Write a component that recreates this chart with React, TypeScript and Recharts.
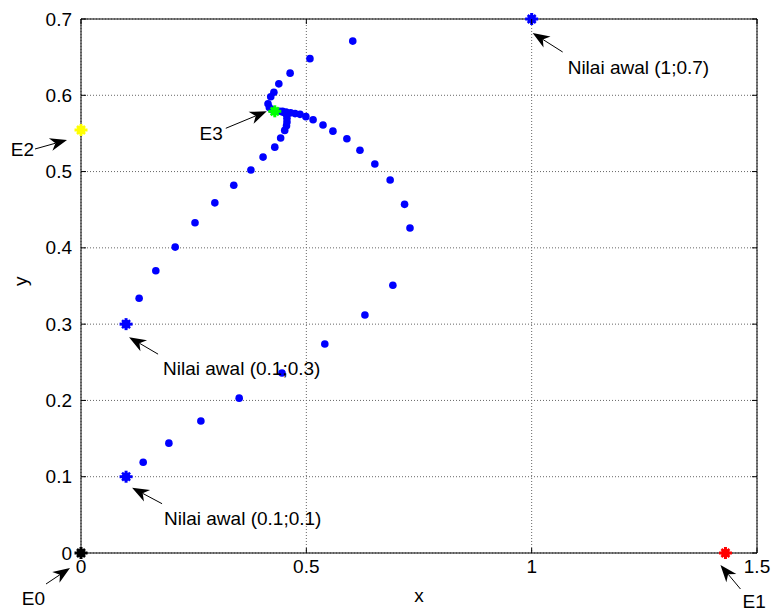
import React from 'react';
import { ScatterChart, Scatter, XAxis, YAxis, CartesianGrid, ReferenceLine } from 'recharts';

// ---------- data ----------
const xTicks = [0, 0.5, 1, 1.5];
const xTickLabels = ['0', '0.5', '1', '1.5'];
const yTicks = [0, 0.1, 0.2, 0.3, 0.4, 0.5, 0.6, 0.7];
const yTickLabels = ['0', '0.1', '0.2', '0.3', '0.4', '0.5', '0.6', '0.7'];

// trajectory starting at (0.1;0.1)
const trajAX = [0.1, 0.138, 0.195, 0.266, 0.351, 0.446, 0.541, 0.630, 0.692, 0.730, 0.718, 0.686, 0.652, 0.619, 0.590, 0.559, 0.537, 0.515, 0.499, 0.486, 0.475, 0.465, 0.455, 0.447, 0.440];
const trajAY = [0.1, 0.119, 0.144, 0.173, 0.203, 0.236, 0.274, 0.312, 0.351, 0.426, 0.457, 0.489, 0.510, 0.528, 0.543, 0.553, 0.561, 0.568, 0.572, 0.575, 0.576, 0.577, 0.578, 0.578, 0.579];

// trajectory starting at (0.1;0.3)
const trajBX = [0.1, 0.129, 0.166, 0.209, 0.253, 0.297, 0.339, 0.377, 0.404, 0.430, 0.443, 0.452, 0.456, 0.457, 0.457, 0.456, 0.452, 0.447];
const trajBY = [0.3, 0.334, 0.370, 0.401, 0.433, 0.459, 0.482, 0.502, 0.519, 0.532, 0.544, 0.554, 0.560, 0.565, 0.570, 0.575, 0.577, 0.579];

// trajectory starting at (1;0.7)
const trajCX = [1.0, 0.603, 0.508, 0.464, 0.439, 0.428, 0.421, 0.415, 0.418, 0.424, 0.430];
const trajCY = [0.7, 0.671, 0.648, 0.629, 0.615, 0.604, 0.598, 0.589, 0.584, 0.581, 0.579];

// initial values
const startX = [0.1, 0.1, 1];
const startY = [0.1, 0.3, 0.7];

// equilibrium points
const eqNames = ['E0', 'E1', 'E2', 'E3'];
const eqX = [0, 1.43, 0, 0.43];
const eqY = [0, 0, 0.5545, 0.579];

// annotations
const annoLabels = ['Nilai awal (1;0.7)', 'Nilai awal (0.1;0.3)', 'Nilai awal (0.1;0.1)', 'E3', 'E2', 'E0', 'E1'];
const annoX = [1, 0.1, 0.1, 0.43, 0, 0, 1.43];
const annoY = [0.7, 0.3, 0.1, 0.579, 0.5545, 0, 0];

// ---------- styles ----------
const FONT = '"Liberation Sans", Arial, Helvetica, sans-serif';
const FS = 19;
const PLOT_W = 676;
const PLOT_H = 534;
const eqColors = ['#000000', '#ff0000', '#ffff00', '#00ff00'];
const annoLayout = [
  { tip: [1, 14], tail: [31, 33], text: [36, 48], anchor: 'start' },
  { tip: [3, 13], tail: [32, 30], text: [37, 44], anchor: 'start' },
  { tip: [6, 11], tail: [36, 27], text: [38, 42], anchor: 'start' },
  { tip: [-8, 0], tail: [-49, 17], text: [-52, 22], anchor: 'end' },
  { tip: [-14, 10], tail: [-46, 19], text: [-47, 20], anchor: 'end' },
  { tip: [-11, 15], tail: [-35, 31], text: [-36, 45], anchor: 'end' },
  { tip: [-5, 12], tail: [15, 36], text: [17, 48], anchor: 'start' },
];

const toPts = (xs: number[], ys: number[]) => xs.map((x, i) => ({ x, y: ys[i], i }));
const dotsA = toPts(trajAX, trajAY);
const dotsB = toPts(trajBX, trajBY);
const dotsC = toPts(trajCX, trajCY);
const starts = toPts(startX, startY);
const eqs = eqNames.map((n, i) => ({ x: eqX[i], y: eqY[i], name: n, i }));
const annos = annoLabels.map((t, i) => ({ x: annoX[i], y: annoY[i], label: t, i }));

// ---------- shapes ----------
const Dot = (p: any) => <circle cx={p.cx} cy={p.cy} r={3.8} fill="#0000ff" />;

const Star = ({ cx, cy, color }: any) => (
  <g>
    <line x1={cx - 6.5} x2={cx + 6.5} y1={cy} y2={cy} stroke={color} strokeWidth={3} />
    <line x1={cx} x2={cx} y1={cy - 6} y2={cy + 6} stroke={color} strokeWidth={3} />
    <line x1={cx - 4} y1={cy - 4} x2={cx + 4} y2={cy + 4} stroke={color} strokeWidth={2.5} />
    <line x1={cx - 4} y1={cy + 4} x2={cx + 4} y2={cy - 4} stroke={color} strokeWidth={2.5} />
    <circle cx={cx} cy={cy} r={4.3} fill={color} />
  </g>
);

const StartShape = (p: any) => <Star cx={p.cx} cy={p.cy} color="#0000ff" />;
const EqShape = (p: any) => <Star cx={p.cx} cy={p.cy} color={eqColors[p.payload.i]} />;

const AnnoShape = (p: any) => {
  const L = annoLayout[p.payload.i];
  const tipX = p.cx + L.tip[0], tipY = p.cy + L.tip[1];
  const tailX = p.cx + L.tail[0], tailY = p.cy + L.tail[1];
  const dx = tipX - tailX, dy = tipY - tailY;
  const len = Math.hypot(dx, dy);
  const ux = dx / len, uy = dy / len;
  const px = -uy, py = ux;
  const hl = 17, hw = 6.5, notch = 12;
  const bx = tipX - ux * hl, by = tipY - uy * hl;
  const nx = tipX - ux * notch, ny = tipY - uy * notch;
  const pts = `${tipX},${tipY} ${bx + px * hw},${by + py * hw} ${nx},${ny} ${bx - px * hw},${by - py * hw}`;
  return (
    <g>
      <line x1={tailX} y1={tailY} x2={nx} y2={ny} stroke="#000" strokeWidth={1} />
      <polygon points={pts} fill="#000" />
      <text x={p.cx + L.text[0]} y={p.cy + L.text[1]} textAnchor={L.anchor} dominantBaseline="central"
        fontSize={FS} fontFamily={FONT} fill="#000">{p.payload.label}</text>
    </g>
  );
};

const YTick = (p: any) => {
  const ax = p.x + 9;
  const idx = yTicks.findIndex(v => Math.abs(v - p.payload.value) < 1e-9);
  return (
    <g>
      <line x1={ax} x2={ax + 5} y1={p.y} y2={p.y} stroke="#000" />
      <line x1={ax + PLOT_W - 5} x2={ax + PLOT_W} y1={p.y} y2={p.y} stroke="#000" />
      <text x={p.x} y={p.y} textAnchor="end" dominantBaseline="central" fontSize={FS} fontFamily={FONT} fill="#000">
        {yTickLabels[idx]}
      </text>
    </g>
  );
};

const XTick = (p: any) => {
  const ay = p.y - 13;
  const idx = xTicks.findIndex(v => Math.abs(v - p.payload.value) < 1e-9);
  return (
    <g>
      <line x1={p.x} x2={p.x} y1={ay} y2={ay - 5} stroke="#000" />
      <line x1={p.x} x2={p.x} y1={ay - PLOT_H} y2={ay - PLOT_H + 5} stroke="#000" />
      <text x={p.x} y={p.y} textAnchor="middle" dominantBaseline="central" fontSize={FS} fontFamily={FONT} fill="#000">
        {xTickLabels[idx]}
      </text>
    </g>
  );
};

export default function App() {
  return (
    <div style={{ position: 'absolute', left: 0, top: 0, width: 771, height: 610, background: '#fff' }}>
      <ScatterChart width={771} height={610} margin={{ top: 19, right: 14, left: 0, bottom: 0 }}>
        <CartesianGrid stroke="#666" strokeDasharray="1 2" />
        <XAxis type="number" dataKey="x" domain={[0, 1.5]} ticks={xTicks} interval={0}
          tickSize={0} tickMargin={13} tick={<XTick />} height={57}
          axisLine={{ stroke: '#000' }} tickLine={false}
          label={{ value: 'x', position: 'insideBottom', offset: 8, style: { fontSize: FS, fontFamily: FONT, fill: '#000' } }} />
        <YAxis type="number" dataKey="y" domain={[0, 0.7]} ticks={yTicks} interval={0}
          tickSize={0} tickMargin={9} tick={<YTick />} width={81}
          axisLine={{ stroke: '#000' }} tickLine={false}
          label={{ value: 'y', angle: -90, position: 'insideLeft', offset: 20, style: { fontSize: FS, fontFamily: FONT, fill: '#000' } }} />
        <ReferenceLine x={1.5} stroke="#000" strokeWidth={1} ifOverflow="visible" />
        <ReferenceLine y={0.7} stroke="#000" strokeWidth={1} ifOverflow="visible" />
        <Scatter data={dotsA} shape={Dot} isAnimationActive={false} />
        <Scatter data={dotsB} shape={Dot} isAnimationActive={false} />
        <Scatter data={dotsC} shape={Dot} isAnimationActive={false} />
        <Scatter data={starts} shape={StartShape} isAnimationActive={false} />
        <Scatter data={eqs} shape={EqShape} isAnimationActive={false} />
        <Scatter data={annos} shape={AnnoShape} isAnimationActive={false} />
      </ScatterChart>
    </div>
  );
}
